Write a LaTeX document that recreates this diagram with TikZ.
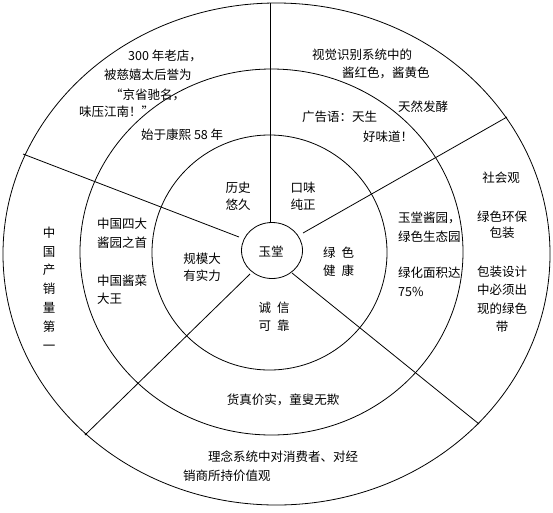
\documentclass[tikz,border=0pt]{standalone}
\usepackage{fontspec}
\setmainfont{Noto Sans CJK SC}
\begin{document}
\begin{tikzpicture}[x=1pt,y=-1pt,
  ring/.style={draw=black,line width=0.8pt},
  spoke/.style={draw=black,line width=0.8pt},
  lbl/.style={inner sep=0pt,font=\fontsize{12.5}{15}\selectfont},
  lw/.style={lbl,anchor=west}]
\useasboundingbox (0,0) rectangle (553,512);
\fill[white] (0,0) rectangle (553,512);
% rings
\draw[ring] (276.5,254) ellipse [x radius=273.5pt, y radius=251pt];
\draw[ring] (271.5,252) ellipse [x radius=191.5pt, y radius=183pt];
\draw[ring] (269.5,252.5) ellipse [x radius=117.5pt, y radius=117.5pt];
\draw[ring] (272,250.5) ellipse [x radius=30.5pt, y radius=28pt];
% spoke end points
\coordinate (v0) at (270.5,222.5);
\coordinate (v1) at (270.5,3);
\coordinate (ul0) at (239,237);
\coordinate (ul1) at (23,154);
\coordinate (ur0) at (303,233);
\coordinate (ur1) at (507,117);
\coordinate (ll0) at (250,274);
\coordinate (ll1) at (85,435);
\coordinate (lr0) at (292,273);
\coordinate (lr1) at (479,424);
\draw[spoke] (v0) -- (v1);
\draw[spoke] (ul0) -- (ul1);
\draw[spoke] (ur0) -- (ur1);
\draw[spoke] (ll0) -- (ll1);
\draw[spoke] (lr0) -- (lr1);
% center
\node[lbl] (core) at (271,252) {玉堂};
% upper left sector
\node[lw] (h1) at (128,56) {300 年老店，};
\node[lw] (h2) at (104,75) {被慈嬉太后誉为};
\node[lw] (h3) at (110,95) {“京省驰名，};
\node[lw] (h4) at (79,112) {味压江南！”};
\node[lw] (h5) at (141,135) {始于康熙 58 年};
\node[lbl] (h6) at (238,188) {历史};
\node[lbl] (h7) at (238,205) {悠久};
% left sector
\node[lw] (s1) at (97,224) {中国四大};
\node[lw] (s2) at (97,243) {酱园之首};
\node[lbl,align=center,font=\fontsize{12.5}{18.8}\selectfont] (s0) at (49,288.5) {中\\国\\产\\销\\量\\第\\一};
\node[lbl] (s3) at (202,259) {规模大};
\node[lbl] (s4) at (202,276) {有实力};
\node[lw] (s5) at (97,281) {中国酱菜};
\node[lw] (s6) at (97,299) {大王};
% bottom sector
\node[lbl] (b1) at (274,308) {诚\hspace{6pt}信};
\node[lbl] (b2) at (274,326) {可\hspace{6pt}靠};
\node[lbl] (b3) at (283,400) {货真价实，童叟无欺};
\node[lw] (b4) at (208,457) {理念系统中对消费者、对经};
\node[lw] (b5) at (183,476) {销商所持价值观};
% upper right sector
\node[lw] (t1) at (312,55) {视觉识别系统中的};
\node[lw] (t2) at (342,73) {酱红色，酱黄色};
\node[lw] (t3) at (398,107) {天然发酵};
\node[lw] (t4) at (302,117) {广告语：天生};
\node[lw] (t5) at (363,137) {好味道！};
\node[lbl] (t6) at (303,188) {口味};
\node[lbl] (t7) at (303,205) {纯正};
% right sector
\node[lw] (r1) at (398,218) {玉堂酱园，};
\node[lw] (r2) at (398,237) {绿色生态园};
\node[lw] (r3) at (323,253) {绿\hspace{6pt}色};
\node[lw] (r4) at (323,271) {健\hspace{6pt}康};
\node[lw] (r5) at (398,273) {绿化面积达};
\node[lw] (r6) at (398,292) {75\%};
\node[lbl] (r7) at (501,178) {社会观};
\node[lbl] (r8) at (502,217) {绿色环保};
\node[lbl] (r9) at (502,233) {包装};
\node[lbl] (r10) at (502,272) {包装设计};
\node[lbl] (r11) at (502,290) {中必须出};
\node[lbl] (r12) at (502,309) {现的绿色};
\node[lbl] (r13) at (502,327) {带};
\end{tikzpicture}
\end{document}
